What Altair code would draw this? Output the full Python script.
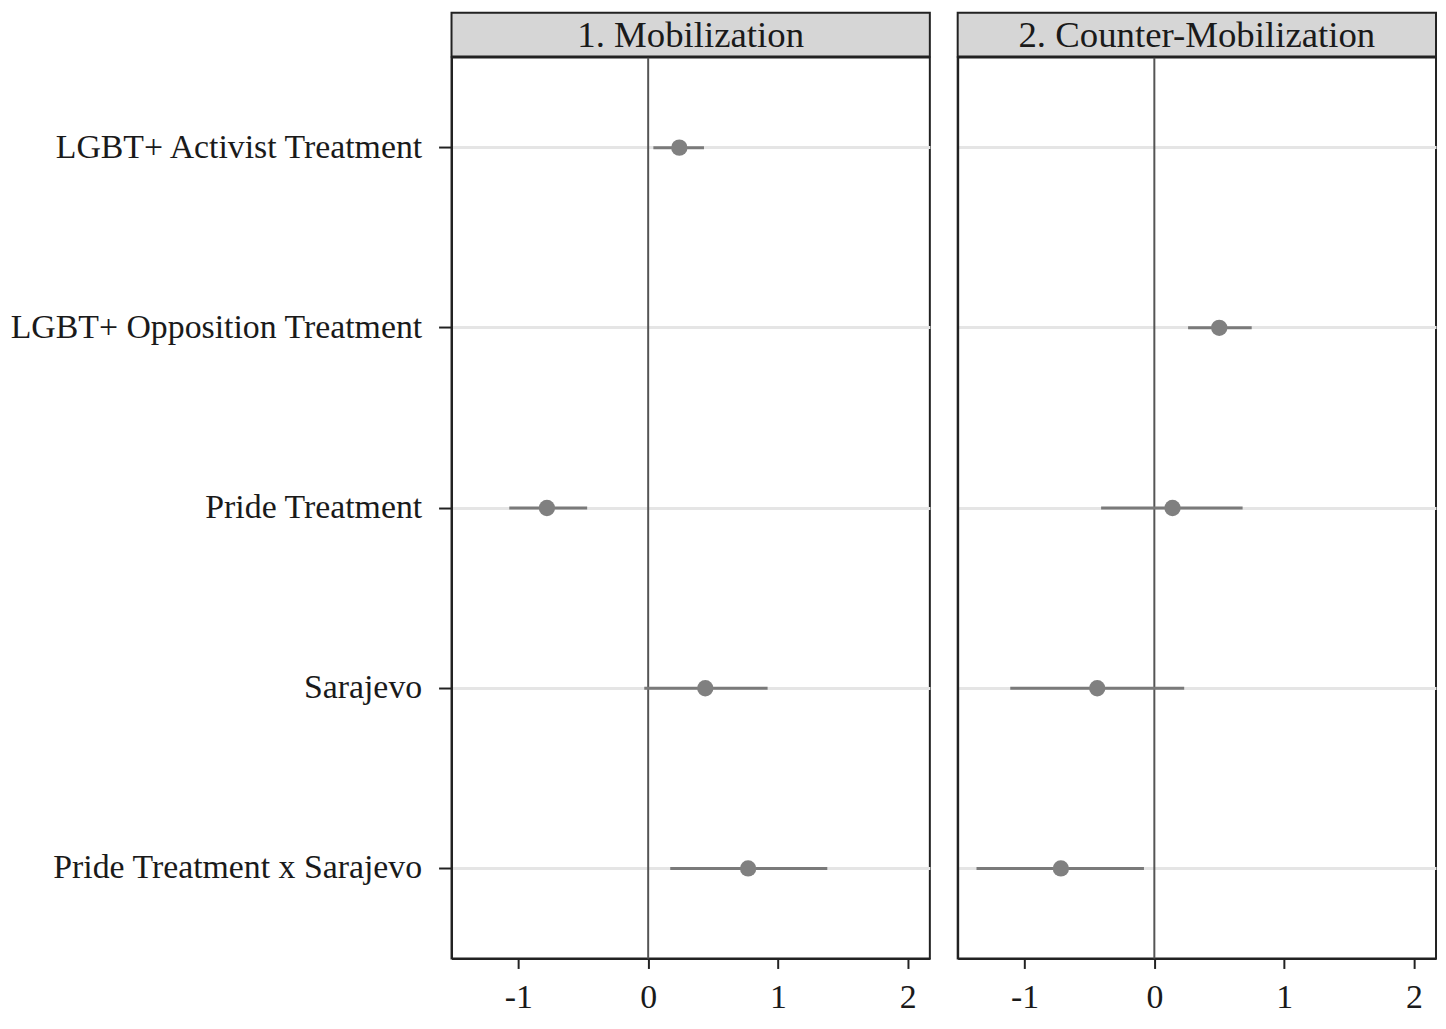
import altair as alt
import pandas as pd

categories = ["LGBT+ Activist Treatment", "LGBT+ Opposition Treatment", "Pride Treatment",
              "Sarajevo", "Pride Treatment x Sarajevo"]

panel1_title = "1. Mobilization"
panel1_terms = ["LGBT+ Activist Treatment", "Pride Treatment", "Sarajevo", "Pride Treatment x Sarajevo"]
panel1_est = [0.24, -0.78, 0.44, 0.77]
panel1_lo = [0.04, -1.07, -0.03, 0.17]
panel1_hi = [0.43, -0.47, 0.92, 1.38]

panel2_title = "2. Counter-Mobilization"
panel2_terms = ["LGBT+ Opposition Treatment", "Pride Treatment", "Sarajevo", "Pride Treatment x Sarajevo"]
panel2_est = [0.50, 0.14, -0.44, -0.72]
panel2_lo = [0.26, -0.41, -1.11, -1.37]
panel2_hi = [0.75, 0.68, 0.23, -0.08]

x_ticks = [-1, 0, 1, 2]

W = 481
H = 906
FONT = "Liberation Serif"


def panel(title, terms, est, lo, hi, show_labels):
    df = pd.DataFrame({"term": terms, "est": est, "lo": lo, "hi": hi})
    xscale = alt.Scale(domain=[-1.515, 2.17], nice=False, zero=False)
    yscale = alt.Scale(domain=categories)
    yaxis = alt.Axis(title=None, grid=True, gridColor="#e5e5e5", gridWidth=3,
                     labels=show_labels, ticks=show_labels, labelFont=FONT, labelFontSize=34,
                     labelColor="#1a1a1a", labelLimit=700, labelPadding=17,
                     tickSize=13, tickWidth=2, tickColor="#222222",
                     domainColor="#222222", domainWidth=2)
    xaxis = alt.Axis(title=None, values=x_ticks, grid=False, labelFont=FONT, labelFontSize=34,
                     labelColor="#1a1a1a", labelExpr="'' + datum.value", labelPadding=12,
                     tickSize=10, tickWidth=2, tickColor="#222222",
                     domainColor="#222222", domainWidth=2)
    base = alt.Chart(df)
    err = base.mark_rule(color="#7a7a7a", strokeWidth=3).encode(
        y=alt.Y("term:N", scale=yscale, axis=yaxis, sort=categories),
        x=alt.X("lo:Q", scale=xscale, axis=xaxis),
        x2="hi:Q",
    )
    zero = alt.Chart(pd.DataFrame({"z": [0]})).mark_rule(color="#555555", strokeWidth=2).encode(
        x=alt.X("z:Q", scale=xscale, axis=xaxis)
    )
    pts = base.mark_circle(color="#808080", opacity=1, size=270).encode(
        y=alt.Y("term:N", scale=yscale, axis=yaxis, sort=categories),
        x=alt.X("est:Q", scale=xscale, axis=xaxis),
    )
    tdf = pd.DataFrame({"t": [title]})
    strip = alt.Chart(tdf).mark_rect(fill="#d6d6d6", stroke="#222222", strokeWidth=2).encode(
        x=alt.value(0), x2=alt.value(W), y=alt.value(-45), y2=alt.value(-1)
    )
    stext = alt.Chart(tdf).mark_text(font=FONT, fontSize=37, color="#1a1a1a",
                                     align="center", baseline="alphabetic").encode(
        x=alt.value(W / 2), y=alt.value(-11), text="t:N"
    )
    return alt.layer(zero, err, pts, strip, stext).properties(width=W, height=H)


p1 = panel(panel1_title, panel1_terms, panel1_est, panel1_lo, panel1_hi, True)
p2 = panel(panel2_title, panel2_terms, panel2_est, panel2_lo, panel2_hi, False)

chart = alt.hconcat(p1, p2, spacing=24).configure_view(
    stroke="#222222", strokeWidth=2
).properties(padding=0, background="white")

chart.save("out.html", embed_options={"renderer": "svg", "actions": False})
